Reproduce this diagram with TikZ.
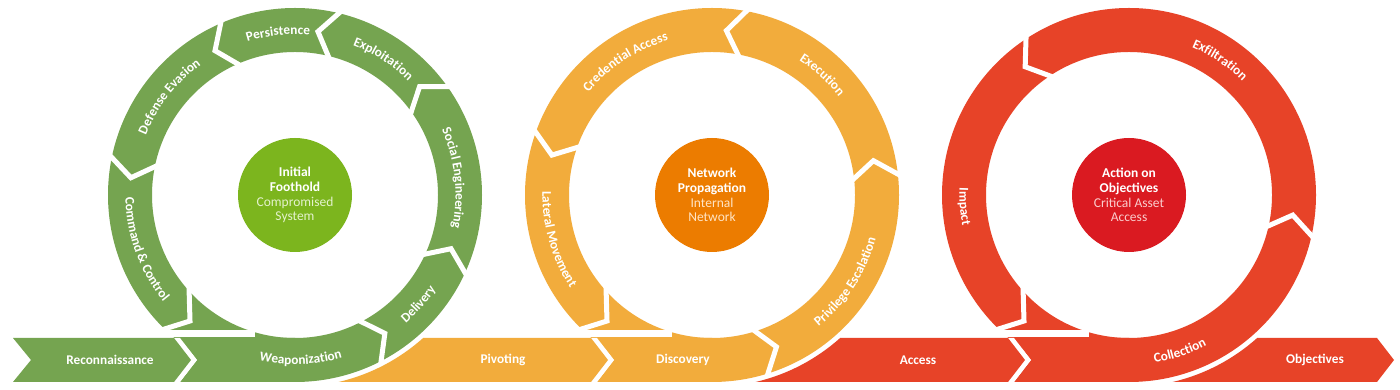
\documentclass[tikz,border=0pt]{standalone}
\usepackage{fontspec}
\setmainfont{Carlito}
\usetikzlibrary{calc,decorations.text}
\definecolor{gring}{RGB}{117,164,80}
\definecolor{gcen}{RGB}{124,181,30}
\definecolor{gsub}{RGB}{228,242,205}
\definecolor{oring}{RGB}{242,172,60}
\definecolor{ocen}{RGB}{236,124,0}
\definecolor{osub}{RGB}{255,228,196}
\definecolor{rring}{RGB}{231,67,40}
\definecolor{rcen}{RGB}{218,26,33}
\definecolor{rsub}{RGB}{250,205,205}
\newcommand\lblfont{\bfseries\fontsize{13.3}{15}\selectfont}
\newcommand\gapchev[2]{\draw[gapline] ($(#1)+(#2:141pt)$) -- ($(#1)+({#2+6}:165pt)$) -- ($(#1)+(#2:189pt)$);}
\newcommand\ccwlbl[3]{\path[decorate,decoration={text along path,text align=center,text color=white,text={|\lblfont|#3}}] ($(#1)+({#2-45}:169.5pt)$) arc[start angle={#2-45},end angle={#2+45},radius=169.5pt];}
\newcommand\cwlbl[3]{\path[decorate,decoration={text along path,text align=center,text color=white,text={|\lblfont|#3}}] ($(#1)+({#2+45}:160.5pt)$) arc[start angle={#2+45},end angle={#2-45},radius=160.5pt];}
\newcommand\ringfill[2]{%
 \fill[#2,even odd rule] (#1) circle[radius=187pt] (#1) circle[radius=143pt];
 \fill[#2] ($(#1)+(-115,-143)$) -- ($(#1)+(-98,-165)$) -- ($(#1)+(-115,-187)$) -- ($(#1)+(0,-187)$) -- ($(#1)+(0,-143)$) -- cycle;}
\newcommand\ringcut[1]{%
 \fill[white] ($(#1)+(-145,-143)$) -- ($(#1)+(-115,-143)$) -- ($(#1)+(-98,-165)$) -- ($(#1)+(-115,-187)$) -- ($(#1)+(-145,-187)$) -- cycle;
 \draw[white,line width=7pt] ($(#1)+(-140,-138.5)$) -- ($(#1)+(-40,-138.5)$);
 \draw[gapline] ($(#1)+(-106,-92)$) -- ($(#1)+(-105,-126)$) -- ($(#1)+(-140,-137)$);}
\tikzset{
 gapline/.style={white,line width=5pt,line join=miter,miter limit=10},
 bartxt/.style={text=white,font=\lblfont,inner sep=0pt},
 cen/.style={circle,inner sep=0pt,minimum size=114pt,align=center,text=white,font=\fontsize{13.5}{14.7}\selectfont}
}
\begin{document}
\begin{tikzpicture}[x=1pt,y=1pt]
\useasboundingbox (0,0) rectangle (1400,390);
\fill[white] (0,0) rectangle (1400,390);
\coordinate (G) at (295,195);
\coordinate (O) at (712,195);
\coordinate (R) at (1129,195);
% rings
\ringfill{G}{gring}
\ringfill{O}{oring}
\ringfill{R}{rring}
\foreach \a in {-63,-25,35,76,113,168} {\gapchev{G}{\a}}
\foreach \a in {-73,6,79,160} {\gapchev{O}{\a}}
\foreach \a in {-13,123} {\gapchev{R}{\a}}
\ringcut{G}
\ringcut{O}
\ringcut{R}
% bars
\fill[gring] (13,52) -- (31,30) -- (13,8) -- (174,8) -- (191,30) -- (174,52) -- cycle;
\fill[oring] ($(G)+(-76.9:192pt)$) arc[start angle=-76.9,end angle=-48.1,radius=192pt] -- (591,52) -- (608,30) -- (591,8) -- cycle;
\fill[rring] ($(O)+(-76.9:192pt)$) arc[start angle=-76.9,end angle=-48.1,radius=192pt] -- (1008,52) -- (1025,30) -- (1008,8) -- cycle;
\fill[rring] ($(R)+(-76.9:192pt)$) arc[start angle=-76.9,end angle=-48.1,radius=192pt] -- (1377,52) -- (1394,30) -- (1377,8) -- cycle;
% centres
\node[cen,fill=gcen] (gc) at (G) {\textbf{Initial}\\\textbf{Foothold}\\{\color{gsub}Compromised}\\{\color{gsub}System}};
\node[cen,fill=ocen] (oc) at (O) {\textbf{Network}\\\textbf{Propagation}\\{\color{osub}Internal}\\{\color{osub}Network}};
\node[cen,fill=rcen] (rc) at (R) {\textbf{Action on}\\\textbf{Objectives}\\{\color{rsub}Critical Asset}\\{\color{rsub}Access}};
% bar labels
\node[bartxt] (recon) at (110,30) {Reconnaissance};
\node[bartxt] (pivot) at (503,30) {Pivoting};
\node[bartxt] (disc) at (683,30) {Discovery};
\node[bartxt] (acc) at (918,30) {Access};
\node[bartxt] (obj) at (1315,30) {Objectives};
% ring labels
\cwlbl{G}{96}{Persistence}
\cwlbl{G}{57}{Exploitation}
\cwlbl{G}{6}{Social Engineering}
\ccwlbl{G}{-41.5}{Delivery}
\ccwlbl{G}{-88}{Weaponization}
\ccwlbl{G}{200}{Command {\&} Control}
\cwlbl{G}{142}{Defense Evasion}
\cwlbl{O}{123}{Credential Access}
\cwlbl{O}{47.5}{Execution}
\ccwlbl{O}{-33}{Privilege Escalation}
\ccwlbl{O}{196}{Lateral Movement}
\cwlbl{R}{56}{Exfiltration}
\ccwlbl{R}{184}{Impact}
\ccwlbl{R}{-72}{Collection}
\end{tikzpicture}
\end{document}
